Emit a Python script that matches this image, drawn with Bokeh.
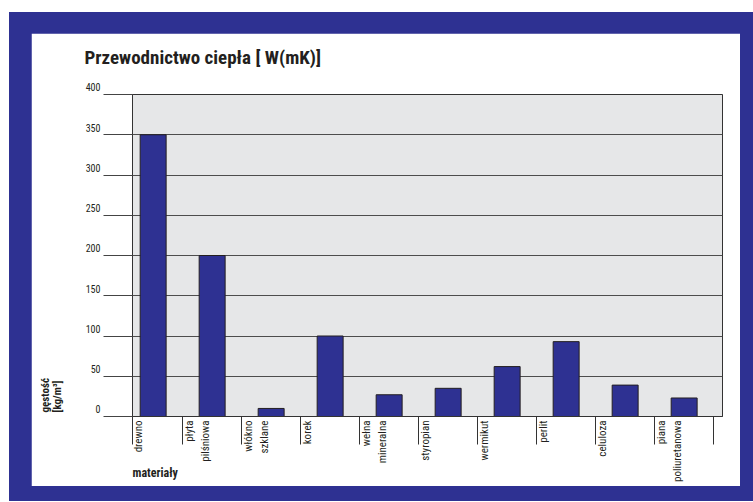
import math
from bokeh.plotting import figure
from bokeh.models import (Range1d, FixedTicker, CustomJSTickFormatter, Title)
from bokeh.layouts import column
from bokeh.embed import file_html
from bokeh.resources import INLINE

# ---- data ----
categories = ["drewno", "płyta\npilśniowa", "włókno\nszklane", "korek", "wełna\nmineralna",
              "styropian", "wermikut", "perlit", "celuloza", "piana\npoliuretanowa"]
density = [350, 200, 10, 100, 27, 35, 62, 93, 39, 23]
y_ticks = [0, 50, 100, 150, 200, 250, 300, 350, 400]
title_text = "Przewodnictwo ciepła [ W(mK)]"
y_label = "gęstość\n[kg/m³]"
x_label = "materiały"

BLUE = "#2E3192"
INK = "#231F20"
FONT = "'Roboto Condensed', 'DejaVu Sans Condensed', Roboto, sans-serif"
NBSP = "\u00a0"

n = len(categories)
x_start, x_end = 0.15, n + 0.15
centers = [i + 0.5 for i in range(n)]
boundaries = [x_start] + [float(i) for i in range(1, n + 1)]
label_pos = [boundaries[i] + (0.25 if "\n" in categories[i] else 0.11) for i in range(n)]

p = figure(width=709, height=453, x_range=Range1d(x_start, x_end), y_range=Range1d(0, 400),
           output_backend="svg", toolbar_location=None,
           min_border_left=101, min_border_right=18, min_border_top=61, min_border_bottom=70)
p.background_fill_color = "#E6E7E8"
p.border_fill_color = "white"
p.outline_line_color = "#333333"

p.vbar(x=centers, top=density, width=0.44, fill_color=BLUE, line_color=INK, line_width=1)

# title (a blank second line lifts it away from the frame)
p.title.text = title_text + "\n" + NBSP
p.title.text_font = FONT
p.title.text_font_size = "19px"
p.title.text_font_style = "bold"
p.title.text_color = INK
p.title.align = "left"
p.title.offset = -48
p.title.standoff = 6

# x axis
xa = p.xaxis[0]
xa.ticker = FixedTicker(ticks=label_pos, minor_ticks=boundaries)
xa.formatter = CustomJSTickFormatter(args=dict(labels=categories), code="return labels[index];")
xa.major_label_orientation = math.pi / 2
xa.major_tick_out = 0
xa.major_tick_in = 0
xa.minor_tick_in = 0
xa.minor_tick_out = 28
xa.minor_tick_line_color = "#333333"
xa.axis_line_color = "#333333"
xa.major_label_text_font = FONT
xa.major_label_text_font_size = "11px"
xa.major_label_text_color = INK
xa.major_label_standoff = -24
p.xgrid.visible = False

# y axis (labels sit just above their grid line, as in the original)
ya = p.yaxis[0]
ya.ticker = FixedTicker(ticks=y_ticks)
ya.formatter = CustomJSTickFormatter(code="return tick.toFixed(0) + '\\n\\u00a0';")
ya.major_tick_out = 29
ya.major_tick_in = 0
ya.minor_tick_out = 0
ya.minor_tick_in = 0
ya.major_tick_line_color = "#444444"
ya.axis_line_color = "#333333"
ya.major_label_text_font = FONT
ya.major_label_text_font_size = "10px"
ya.major_label_text_color = INK
ya.major_label_standoff = 3
ya.axis_label = NBSP          # invisible spacer between tick labels and the y title
ya.axis_label_text_font_size = "11px"
ya.axis_label_standoff = 2
p.ygrid.grid_line_color = "#4D4D4D"
p.ygrid.grid_line_alpha = 1.0
p.ygrid.ticker = FixedTicker(ticks=y_ticks)

# y-axis title, near the bottom of the left side
p.add_layout(Title(text=y_label, align="left", offset=4, standoff=2, text_font=FONT,
                   text_font_size="11px", text_font_style="bold", text_color=INK,
                   text_line_height=0.95), "left")
# x-axis title, under the first category (pulled up into the tick-label band)
p.add_layout(Title(text=x_label, align="left", offset=0, standoff=-39, vertical_align="top",
                   text_font=FONT, text_font_size="12px", text_font_style="bold",
                   text_color=INK), "below")

layout = column(p, styles={"background-color": BLUE, "padding": "21px 14px 15px 22px",
                           "margin-left": "9px", "margin-top": "12px"})

open("out.html", "w").write(file_html(layout, INLINE))
